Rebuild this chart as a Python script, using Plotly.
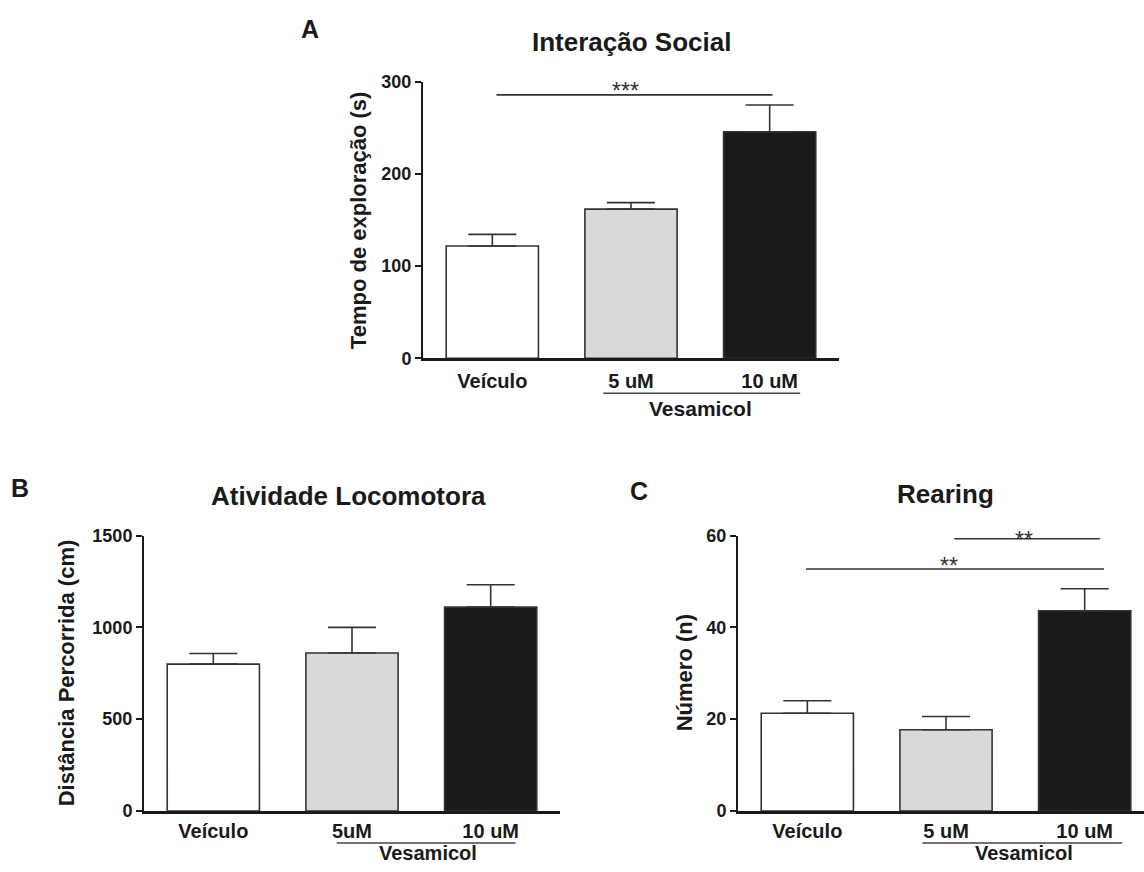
import plotly.graph_objects as go

# ---------------- data ----------------
categories_A = ["Veículo", "5 uM", "10 uM"]
means_A = [122, 162, 246]
sem_A = [12.5, 7, 29]

categories_B = ["Veículo", "5uM", "10 uM"]
means_B = [800, 860, 1110]
sem_B = [58, 140, 122]

categories_C = ["Veículo", "5 uM", "10 uM"]
means_C = [21.3, 17.7, 43.6]
sem_C = [2.7, 2.9, 4.8]

bar_colors = ["#ffffff", "#d9d9d9", "#1a1a1a"]

titles = ["Interação Social", "Atividade Locomotora", "Rearing"]
ytitles = ["Tempo de exploração (s)", "Distância Percorrida (cm)", "Número (n)"]
panel_letters = ["A", "B", "C"]
yticks_A = [0, 100, 200, 300]
yticks_B = [0, 500, 1000, 1500]
yticks_C = [0, 20, 40, 60]
group_label = "Vesamicol"

# significance: (from category, to category, y value, label, label x)
sig_A = [(0.03, 2.02, 286, "***", 0.96)]
sig_C = [(1.06, 2.11, 59.3, "**", 1.56), (-0.01, 2.14, 52.7, "**", 1.025)]

# ---------------- layout helpers ----------------
W, H = 1144, 872
FONT = "Liberation Sans, Arial, sans-serif"
INK = "#1a1a1a"
VS = 0.977  # vertical compensation observed in the capture


def px_x(p):
    return p / W


def px_y(t):
    p = 436 + (t - 436) / VS
    return 1 - p / H


panels = [
    dict(cats=categories_A, means=means_A, sem=sem_A, yticks=yticks_A,
         x0=423, x1=839, ytop=82, ybot=358.3, xrange=[-0.5, 2.5],
         sig=sig_A, sigshift=[4], title_xy=(631, 42), letter_xy=(310, 29),
         ytitle_x=358, line=(0.80, 2.22), grp_x=1.5,
         line_off=35, grp_off=50, grp_size=21, standoff=3),
    dict(cats=categories_B, means=means_B, sem=sem_B, yticks=yticks_B,
         x0=144, x1=560, ytop=535.5, ybot=811, xrange=[-0.5, 2.5],
         sig=[], sigshift=[], title_xy=(348, 496), letter_xy=(20, 488),
         ytitle_x=66, line=(0.89, 2.18), grp_x=1.55,
         line_off=32, grp_off=42, grp_size=20, standoff=0),
    dict(cats=categories_C, means=means_C, sem=sem_C, yticks=yticks_C,
         x0=738, x1=1144, ytop=535.5, ybot=811, xrange=[-0.5, 2.5 - 10 / 138.5],
         sig=sig_C, sigshift=[-1, 3], title_xy=(946, 494), letter_xy=(639, 491),
         ytitle_x=684, line=(0.83, 2.27), grp_x=1.56,
         line_off=32, grp_off=42, grp_size=20, standoff=0),
]

fig = go.Figure()
layout = dict(width=W, height=H, margin=dict(l=0, r=0, t=0, b=0),
              paper_bgcolor="white", plot_bgcolor="white", showlegend=False,
              font=dict(family=FONT, color=INK))
shapes, annots = [], []

for i, p in enumerate(panels):
    xa = "x" if i == 0 else f"x{i+1}"
    ya = "y" if i == 0 else f"y{i+1}"
    xkey = "xaxis" if i == 0 else f"xaxis{i+1}"
    ykey = "yaxis" if i == 0 else f"yaxis{i+1}"
    fig.add_trace(go.Bar(
        x=p["cats"], y=p["means"], xaxis=xa, yaxis=ya,
        marker=dict(color=bar_colors, line=dict(color="#333333", width=1.6)),
        width=0.665,
        error_y=dict(type="data", array=p["sem"], arrayminus=[0] * 3,
                     symmetric=False, color="#333333", thickness=1.6, width=24),
        hoverinfo="skip"))
    ymax = p["yticks"][-1]
    layout[xkey] = dict(domain=[px_x(p["x0"]), px_x(p["x1"])], anchor=ya,
                        type="category", range=p["xrange"], showline=True,
                        linecolor=INK, linewidth=2.5, ticks="", showgrid=False,
                        zeroline=False, ticklabelstandoff=p["standoff"],
                        tickfont=dict(size=20, weight="bold", family=FONT, color=INK),
                        fixedrange=True)
    layout[ykey] = dict(domain=[px_y(p["ybot"]), px_y(p["ytop"])], anchor=xa,
                        range=[0, ymax], tickvals=p["yticks"], showline=True,
                        linecolor=INK, linewidth=2, ticks="outside", ticklen=6,
                        tickwidth=2, tickcolor=INK, showgrid=False, zeroline=False,
                        tickfont=dict(size=18, weight="bold", family=FONT, color=INK),
                        fixedrange=True)
    # significance bars
    for (a, b, yv, lab, lx), sh in zip(p["sig"], p["sigshift"]):
        shapes.append(dict(type="line", xref=xa, yref=ya, x0=a, x1=b, y0=yv, y1=yv,
                           line=dict(color="#333333", width=1.6)))
        annots.append(dict(x=lx, y=yv, xref=xa, yref=ya,
                           text=lab, showarrow=False, yanchor="middle", yshift=sh,
                           font=dict(size=23, family=FONT, color="#333333")))
    # group underline + label
    y_line = px_y(p["ybot"] + p["line_off"])
    shapes.append(dict(type="line", xref=xa, yref="paper", x0=p["line"][0], x1=p["line"][1],
                       y0=y_line, y1=y_line, line=dict(color="#444444", width=1.6)))
    annots.append(dict(x=p["grp_x"], y=px_y(p["ybot"] + p["grp_off"]), xref=xa, yref="paper",
                       text=group_label, showarrow=False, yanchor="middle",
                       font=dict(size=p["grp_size"], weight="bold", family=FONT, color=INK)))
    # title
    annots.append(dict(x=px_x(p["title_xy"][0]), y=px_y(p["title_xy"][1]), xref="paper",
                       yref="paper", text=titles[i], showarrow=False, yanchor="middle",
                       xanchor="center",
                       font=dict(size=26, weight="bold", family=FONT, color=INK)))
    # panel letter
    annots.append(dict(x=px_x(p["letter_xy"][0]), y=px_y(p["letter_xy"][1]), xref="paper",
                       yref="paper", text=panel_letters[i], showarrow=False,
                       yanchor="middle", xanchor="center",
                       font=dict(size=25, weight="bold", family=FONT, color=INK)))
    # y axis title
    annots.append(dict(x=px_x(p["ytitle_x"]), y=px_y((p["ytop"] + p["ybot"]) / 2),
                       xref="paper", yref="paper", text=ytitles[i], showarrow=False,
                       textangle=-90, xanchor="center", yanchor="middle",
                       font=dict(size=22, weight="bold", family=FONT, color=INK)))

layout["shapes"] = shapes
layout["annotations"] = annots
fig.update_layout(**layout)
fig.write_html("out.html", config={"displayModeBar": False},
               post_script="document.body.style.margin='0';document.body.style.overflow='hidden';")
